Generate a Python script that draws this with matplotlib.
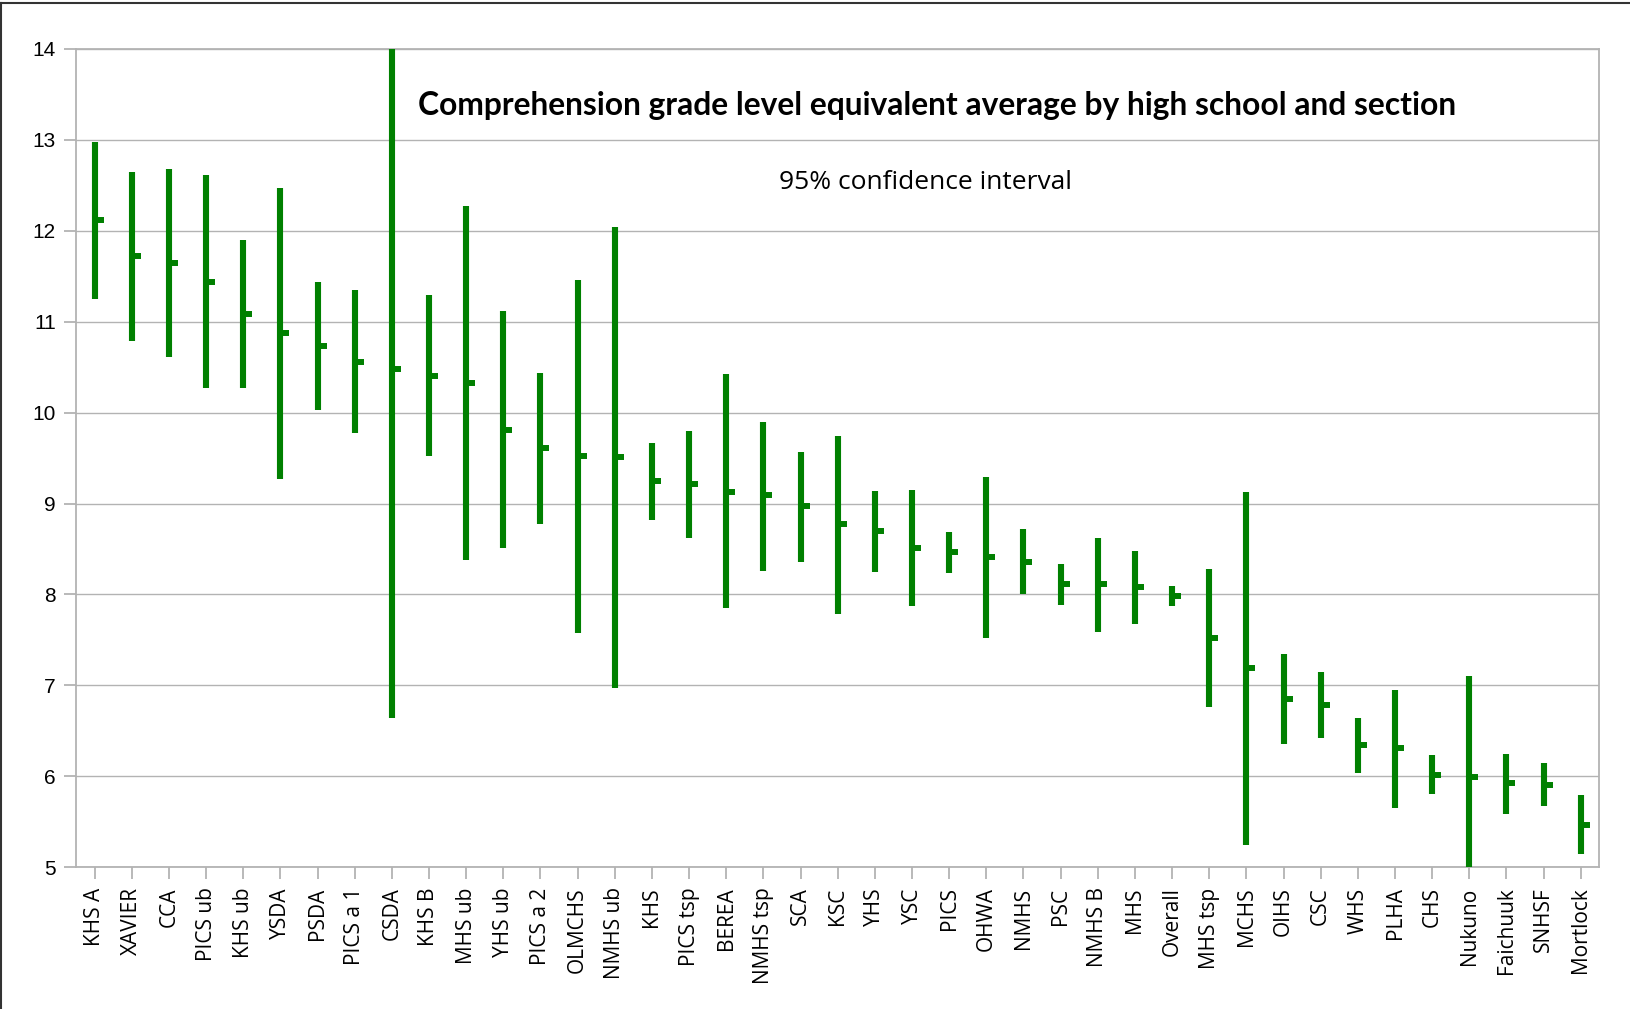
import matplotlib
matplotlib.use("Agg")
import matplotlib.pyplot as plt
from matplotlib.lines import Line2D
from matplotlib.markers import TICKRIGHT

# Schools / sections, ordered as in the chart
schools = ['KHS A', 'XAVIER', 'CCA', 'PICS ub', 'KHS ub', 'YSDA', 'PSDA', 'PICS a 1',
           'CSDA', 'KHS B', 'MHS ub', 'YHS ub', 'PICS a 2', 'OLMCHS', 'NMHS ub', 'KHS',
           'PICS tsp', 'BEREA', 'NMHS tsp', 'SCA', 'KSC', 'YHS', 'YSC', 'PICS', 'OHWA',
           'NMHS', 'PSC', 'NMHS B', 'MHS', 'Overall', 'MHS tsp', 'MCHS', 'OIHS', 'CSC',
           'WHS', 'PLHA', 'CHS', 'Nukuno', 'Faichuuk', 'SNHSF', 'Mortlock']

# upper end of the 95% confidence interval
upper = [12.97, 12.65, 12.68, 12.61, 11.90, 12.47, 11.43, 11.35,
         14.32, 11.29, 12.27, 11.12, 10.44, 11.46, 12.04, 9.67,
         9.80, 10.42, 9.90, 9.57, 9.74, 9.14, 9.15, 8.69, 9.29,
         8.72, 8.33, 8.62, 8.48, 8.09, 8.28, 9.13, 7.34, 7.15,
         6.64, 6.95, 6.23, 7.10, 6.25, 6.15, 5.79]

# lower end of the 95% confidence interval
lower = [11.25, 10.79, 10.61, 10.27, 10.27, 9.27, 10.03, 9.77,
         6.64, 9.52, 8.38, 8.51, 8.78, 7.58, 6.97, 8.82,
         8.62, 7.85, 8.26, 8.36, 7.79, 8.25, 7.87, 8.24, 7.52,
         8.00, 7.88, 7.59, 7.68, 7.87, 6.76, 5.25, 6.36, 6.42,
         6.04, 5.65, 5.81, 4.88, 5.59, 5.67, 5.15]

# average grade level equivalent
average = [12.12, 11.72, 11.64, 11.44, 11.08, 10.87, 10.73, 10.56,
           10.48, 10.40, 10.32, 9.81, 9.61, 9.52, 9.51, 9.25,
           9.21, 9.13, 9.09, 8.97, 8.77, 8.70, 8.51, 8.47, 8.41,
           8.36, 8.11, 8.11, 8.08, 7.98, 7.52, 7.19, 6.85, 6.79,
           6.34, 6.31, 6.02, 5.99, 5.93, 5.91, 5.47]

yticks = list(range(5, 15))

green = '#008000'
grid_grey = '#b3b3b3'

fig = plt.figure(figsize=(16.31, 10.09), dpi=100)
ax = fig.add_axes([0.0466, 0.1404, 0.9340, 0.8113])

x = list(range(len(schools)))
ax.vlines(x, lower, upper, colors=green, linewidth=4.4, zorder=3)
ax.plot(x, average, linestyle='none', marker=TICKRIGHT, markersize=6.8,
        markeredgewidth=4.3, color=green, zorder=3)

ax.set_xlim(-0.5, len(schools) - 0.5)
ax.set_ylim(5, 14)
ax.set_xticks(x)
ax.set_xticklabels(schools, rotation=90, fontfamily='Open Sans', fontsize=15)
ax.set_yticks(yticks)
ax.set_yticklabels([str(v) for v in yticks], fontfamily='Liberation Sans', fontsize=15)

ax.grid(axis='y', color=grid_grey, linewidth=1.0)
ax.set_axisbelow(True)
for s in ax.spines.values():
    s.set_color(grid_grey)
    s.set_linewidth(1.3)
ax.tick_params(axis='both', color=grid_grey, width=1.3, length=8.5)
ax.tick_params(axis='y', pad=6)
ax.tick_params(axis='x', pad=6)

fig.text(0.5745, 1 - 115 / 1009, 'Comprehension grade level equivalent average by high school and section',
         ha='center', va='baseline', fontfamily='Lato', fontweight='bold', fontsize=22.9)
fig.text(0.5675, 1 - 189 / 1009, '95% confidence interval',
         ha='center', va='baseline', fontfamily='Open Sans', fontsize=19)

# outer frame (left and top edges visible)
fig.add_artist(Line2D([0.0008, 0.0008], [0, 0.9975], transform=fig.transFigure, color='#333333', linewidth=1.5))
fig.add_artist(Line2D([0.0008, 1.0], [0.9975, 0.9975], transform=fig.transFigure, color='#333333', linewidth=1.5))

fig.savefig('out.png', dpi=100)
